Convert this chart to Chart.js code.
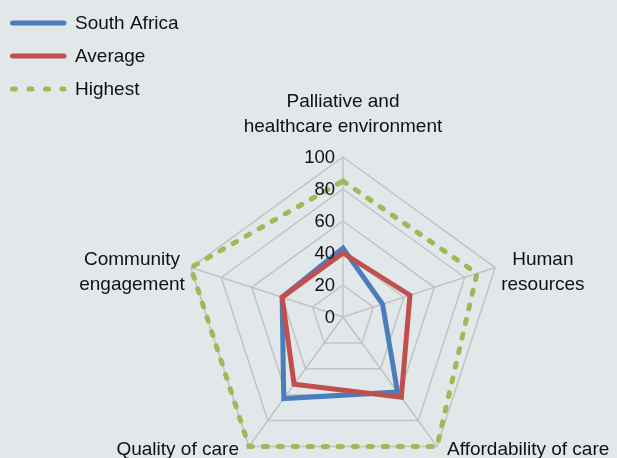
<!DOCTYPE html>
<html>
<head>
<meta charset="utf-8">
<script src="https://cdn.jsdelivr.net/npm/chart.js@4/dist/chart.umd.min.js"></script>
<style>
  html, body { margin: 0; padding: 0; background: #e2e7ea; }
  #wrap { width: 617px; height: 458px; position: relative; }
</style>
</head>
<body>
<div id="wrap"><canvas id="radarChart" width="617" height="458"></canvas></div>
<script>
// Оси (категории) — многострочные подписи
const categories = [
    ['Palliative and', 'healthcare environment'],
    ['Human', 'resources'],
    ['Affordability of care'],
    ['Quality of care'],
    ['Community', 'engagement']
];
const tickValues = [0, 20, 40, 60, 80, 100];

// Значения серий
const southAfrica = [43, 26, 58, 63, 40];
const average = [40, 44, 62, 52, 40];
const highest = [85, 88, 100, 100, 100];

const seriesNames = ['South Africa', 'Average', 'Highest'];
const seriesColors = ['#4a7ebb', '#c0504d', '#9bbb59'];

// Геометрия
const CENTER_X = 343;
const CENTER_Y = 317;
const RADIUS = 160;
const FONT = '19px "Liberation Sans", Arial, sans-serif';
const TICK_FONT = '18.5px "Liberation Sans", Arial, sans-serif';
const TEXT_COLOR = '#111111';

// Подписи осей, тики и легенда рисуются поверх линий
const overlayPlugin = {
    id: 'overlay',
    beforeDraw(chart) {
        const ctx = chart.ctx;
        ctx.save();
        ctx.fillStyle = '#e2e7ea';
        ctx.fillRect(0, 0, chart.width, chart.height);
        ctx.restore();
    },
    afterDatasetsDraw(chart) {
        const ctx = chart.ctx;
        const scale = chart.scales.r;
        ctx.save();
        ctx.fillStyle = TEXT_COLOR;

        // тики
        ctx.font = TICK_FONT;
        ctx.textAlign = 'right';
        ctx.textBaseline = 'middle';
        tickValues.forEach(v => {
            const d = scale.getDistanceFromCenterForValue(v);
            ctx.fillText(String(v), scale.xCenter - 8, scale.yCenter - d + 1);
        });

        // подписи осей
        ctx.font = FONT;
        const lineHeight = 25;
        ctx.textAlign = 'center';
        categories.forEach((lines, i) => {
            const p = scale.getPointPosition(i, scale.drawingArea);
            const cos = Math.cos(p.angle);
            const sin = Math.sin(p.angle);
            const w = Math.max(...lines.map(l => ctx.measureText(l).width));
            const h = lines.length * lineHeight;
            let cx, cy;
            if (sin < -0.9) {
                cx = p.x;
                cy = p.y - 18 - h / 2;
            } else {
                const dx = Math.abs(sin) > 0.5 ? 10 : 6;
                cx = cos > 0 ? p.x + dx + w / 2 : p.x - dx - w / 2;
                cy = p.y + (sin > 0.5 ? 3 : 5);
            }
            lines.forEach((l, k) => {
                ctx.fillText(l, cx, cy - h / 2 + lineHeight * (k + 0.5));
            });
        });

        // легенда
        ctx.textAlign = 'left';
        chart.data.datasets.forEach((ds, i) => {
            const y = 23 + i * 33;
            ctx.beginPath();
            ctx.strokeStyle = ds.borderColor;
            ctx.lineWidth = 5;
            ctx.lineCap = 'round';
            ctx.setLineDash(i === 2 ? [3, 13.5] : []);
            ctx.moveTo(12.5, y);
            ctx.lineTo(64, y);
            ctx.stroke();
            ctx.fillText(ds.label, 75, y + 1);
        });
        ctx.restore();
    }
};

const ctx = document.getElementById('radarChart').getContext('2d');
new Chart(ctx, {
    type: 'radar',
    data: {
        labels: categories,
        datasets: [
            {
                label: seriesNames[0],
                data: southAfrica,
                borderColor: seriesColors[0],
                borderWidth: 5,
                order: 2
            },
            {
                label: seriesNames[1],
                data: average,
                borderColor: seriesColors[1],
                borderWidth: 5,
                order: 1
            },
            {
                label: seriesNames[2],
                data: highest,
                borderColor: seriesColors[2],
                borderWidth: 5,
                borderDash: [4, 11],
                borderCapStyle: 'round',
                order: 0
            }
        ]
    },
    options: {
        responsive: false,
        animation: false,
        elements: {
            point: { radius: 0, hoverRadius: 0 },
            line: { fill: false, tension: 0 }
        },
        plugins: {
            legend: { display: false },
            tooltip: { enabled: false }
        },
        scales: {
            r: {
                min: 0,
                max: 100,
                ticks: { stepSize: 20, display: false },
                pointLabels: { display: false },
                grid: { color: '#c3c3c3', lineWidth: 1.5 },
                angleLines: { color: '#c3c3c3', lineWidth: 1.5 },
                afterFit: (scale) => {
                    scale.xCenter = CENTER_X;
                    scale.yCenter = CENTER_Y;
                    scale.drawingArea = RADIUS;
                }
            }
        }
    },
    plugins: [overlayPlugin]
});
</script>
</body>
</html>
